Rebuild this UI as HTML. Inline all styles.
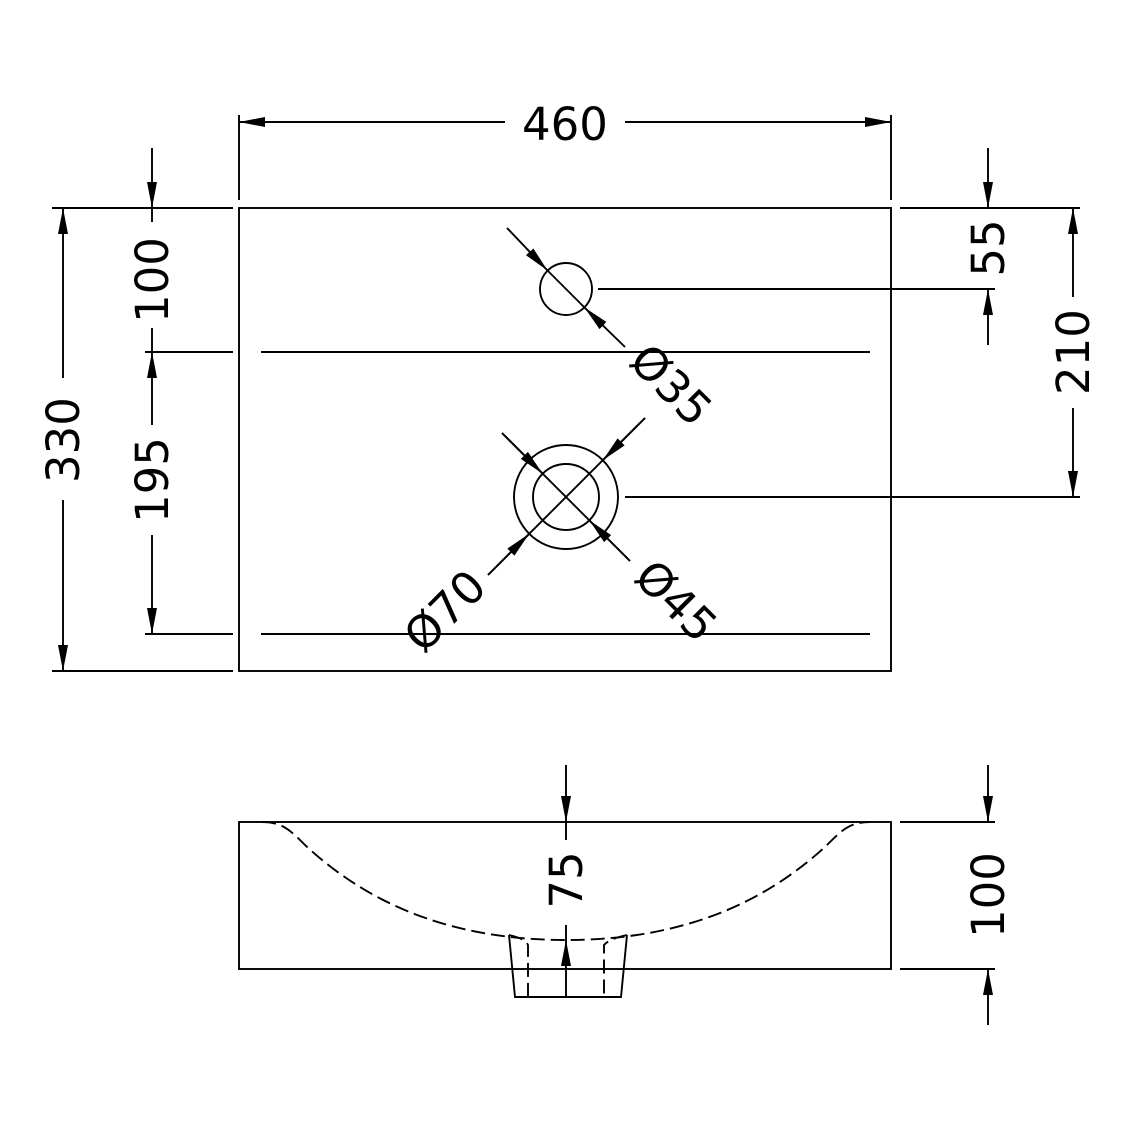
<!DOCTYPE html>
<html><head><style>
html,body{margin:0;padding:0;background:#fff;}
svg{display:block;}
text{font-family:"DejaVu Sans","Liberation Sans",sans-serif;font-size:45px;fill:#000;}
</style></head><body>
<svg width="1131" height="1132" viewBox="0 0 1131 1132" xmlns="http://www.w3.org/2000/svg">
<defs>
<marker id="a" markerWidth="26" markerHeight="10" refX="26" refY="5" orient="auto" markerUnits="userSpaceOnUse">
<polygon points="0,0 26,5 0,10" fill="#000"/>
</marker>
</defs>
<g stroke="#000" stroke-width="1.9" fill="none">
<rect x="239" y="208" width="652" height="463"/>
<line x1="261" y1="352" x2="870" y2="352"/>
<line x1="261" y1="634" x2="870" y2="634"/>
<line x1="145" y1="352" x2="233" y2="352"/>
<line x1="145" y1="634" x2="233" y2="634"/>
<line x1="52" y1="208" x2="233" y2="208"/>
<line x1="52" y1="671" x2="233" y2="671"/>
<line x1="239" y1="115" x2="239" y2="200"/>
<line x1="891" y1="115" x2="891" y2="200"/>
<line x1="900" y1="208" x2="1080" y2="208"/>
<line x1="598" y1="289" x2="995" y2="289"/>
<line x1="625" y1="497" x2="1080" y2="497"/>
<line x1="505" y1="122" x2="239" y2="122" marker-end="url(#a)"/>
<line x1="625" y1="122" x2="891" y2="122" marker-end="url(#a)"/>
<line x1="63" y1="378" x2="63" y2="208" marker-end="url(#a)"/>
<line x1="63" y1="500" x2="63" y2="671" marker-end="url(#a)"/>
<line x1="152" y1="148" x2="152" y2="208" marker-end="url(#a)"/>
<line x1="152" y1="208" x2="152" y2="222"/>
<line x1="152" y1="328" x2="152" y2="352"/>
<line x1="152" y1="425" x2="152" y2="352" marker-end="url(#a)"/>
<line x1="152" y1="535" x2="152" y2="634" marker-end="url(#a)"/>
<line x1="988" y1="148" x2="988" y2="208" marker-end="url(#a)"/>
<line x1="988" y1="345" x2="988" y2="289" marker-end="url(#a)"/>
<line x1="1073" y1="297" x2="1073" y2="208" marker-end="url(#a)"/>
<line x1="1073" y1="408" x2="1073" y2="497" marker-end="url(#a)"/>
<circle cx="566" cy="289" r="26"/>
<line x1="507" y1="228" x2="547.6" y2="270.6" marker-end="url(#a)"/>
<line x1="625" y1="347" x2="584.4" y2="307.4" marker-end="url(#a)"/>
<line x1="547" y1="270" x2="585" y2="308"/>
<circle cx="566" cy="497" r="52"/>
<circle cx="566" cy="497" r="33"/>
<line x1="502" y1="433" x2="630" y2="561"/>
<line x1="502" y1="433" x2="542.7" y2="473.7" marker-end="url(#a)"/>
<line x1="630" y1="561" x2="589.3" y2="520.3" marker-end="url(#a)"/>
<line x1="645" y1="418" x2="488" y2="575"/>
<line x1="645" y1="418" x2="602.8" y2="460.2" marker-end="url(#a)"/>
<line x1="488" y1="575" x2="529.2" y2="533.8" marker-end="url(#a)"/>
<rect x="239" y="822" width="652" height="147"/>
<path d="M262,822 C282,822 290,830 305,845 C380,915 470,940 566,940 C662,940 752,915 827,845 C842,830 850,822 870,822" stroke-dasharray="14,6"/>
<path d="M509,935 L515,997 L621,997 L627,935"/>
<path d="M509,935 C518,937 526,940 528,945 L528,997" stroke-dasharray="14,6"/>
<path d="M627,935 C618,937 608,940 604,945 L604,997" stroke-dasharray="14,6"/>
<line x1="566" y1="765" x2="566" y2="822" marker-end="url(#a)"/>
<line x1="566" y1="822" x2="566" y2="840"/>
<line x1="566" y1="925" x2="566" y2="940"/>
<line x1="566" y1="997" x2="566" y2="940" marker-end="url(#a)"/>
<line x1="900" y1="822" x2="995" y2="822"/>
<line x1="900" y1="969" x2="995" y2="969"/>
<line x1="988" y1="765" x2="988" y2="822" marker-end="url(#a)"/>
<line x1="988" y1="1025" x2="988" y2="969" marker-end="url(#a)"/>
</g>
<text x="565" y="140" text-anchor="middle">460</text>
<text transform="translate(79,440) rotate(-90)" text-anchor="middle">330</text>
<text transform="translate(168,280) rotate(-90)" text-anchor="middle">100</text>
<text transform="translate(168,480) rotate(-90)" text-anchor="middle">195</text>
<text transform="translate(1004,248) rotate(-90)" text-anchor="middle">55</text>
<text transform="translate(1089,352) rotate(-90)" text-anchor="middle">210</text>
<text transform="translate(582,880) rotate(-90)" text-anchor="middle">75</text>
<text transform="translate(1004,895) rotate(-90)" text-anchor="middle">100</text>
<text transform="translate(660,396) rotate(45)" text-anchor="middle">Ø35</text>
<text transform="translate(665,612) rotate(45)" text-anchor="middle">Ø45</text>
<text transform="translate(456,622) rotate(-45)" text-anchor="middle">Ø70</text>
</svg>
</body></html>
